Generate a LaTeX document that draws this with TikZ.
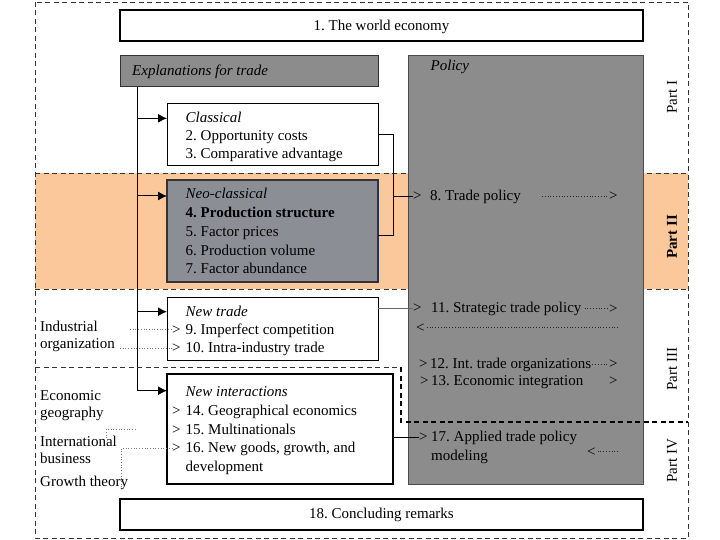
\documentclass[tikz,border=0pt]{standalone}
\usepackage{fontspec}
\setmainfont{Liberation Serif}
\usetikzlibrary{arrows.meta}
\newcommand\myfs{\fontsize{15}{18}\selectfont\frenchspacing}
\definecolor{bandorange}{RGB}{250,200,155}
\definecolor{boxgray}{RGB}{140,140,140}
\definecolor{neogray}{RGB}{140,142,150}
\definecolor{dotgray}{RGB}{120,120,120}
\begin{document}
\begin{tikzpicture}[x=1pt,y=-1pt,
  lbl/.style={anchor=base west, inner sep=0pt, font=\myfs},
  glyph/.style={anchor=base west, inner sep=0pt, font=\myfs},
  wbox/.style={draw=black, fill=white, anchor=north west, inner sep=0pt, outer sep=0pt, line width=1.2pt},
  gbox/.style={draw=black!80, fill=boxgray, anchor=north west, inner sep=0pt, outer sep=0pt, line width=1pt},
  outerframe/.style={line width=0.6pt, draw=black!80, dash pattern=on 5pt off 3.5pt},
  partsep/.style={line width=1.6pt, draw=black, dash pattern=on 5pt off 3.5pt},
  feed/.style={line width=1pt, -{Latex[length=9pt,width=9pt]}},
  solidlink/.style={line width=0.7pt, draw=black},
  dotline/.style={dotted, line width=0.7pt, draw=dotgray},
  pdots/.style={dotted, line width=0.8pt, draw=black!85},
]
\useasboundingbox (0,0) rectangle (720,540);
\fill[white] (0,0) rectangle (720,540);

% orange band (Part II)
\fill[bandorange] (35,173) rectangle (688,289);
\draw[outerframe] (35,173) -- (688,173);
\draw[outerframe] (35,289) -- (688,289);
\draw[outerframe] (35,2) rectangle (688,538);

% boxes
\node[wbox, minimum width=523pt, minimum height=31pt] (world) at (120,10) {};
\node[lbl, anchor=base] (worldt) at (381.5,30.7) {1. The world economy};

\node[gbox, minimum width=258pt, minimum height=31pt] (expl) at (120,56) {};
\node[lbl] (explt) at (132,76) {\itshape Explanations for trade};

\node[gbox, draw=black!70, minimum width=235pt, minimum height=428pt] (policy) at (408,56) {};
\node[lbl] (policyt) at (430.5,70.7) {\itshape Policy};

\node[wbox, line width=0.8pt, minimum width=211pt, minimum height=62pt] (classical) at (167,103) {};
\node[lbl] (c1) at (185.5,123) {\itshape Classical};
\node[lbl] (c2) at (185.5,140.5) {2. Opportunity costs};
\node[lbl] (c3) at (185.5,158.5) {3. Comparative advantage};

\node[gbox, fill=neogray, line width=1.3pt, minimum width=211pt, minimum height=102pt] (neo) at (167,180) {};
\node[lbl] (n1) at (185.5,199) {\itshape Neo-classical};
\node[lbl] (n2) at (185.5,218) {\bfseries 4. Production structure};
\node[lbl] (n3) at (185.5,236.5) {5. Factor prices};
\node[lbl] (n4) at (185.5,255) {6. Production volume};
\node[lbl] (n5) at (185.5,273.5) {7. Factor abundance};

\node[wbox, line width=1pt, minimum width=211pt, minimum height=63pt] (newtrade) at (167,297) {};
\node[lbl] (nt1) at (185.5,316) {\itshape New trade};
\node[lbl] (nt2) at (185.5,334) {9. Imperfect competition};
\node[lbl] (nt3) at (185.5,352.7) {10. Intra-industry trade};
\node[glyph] (g9) at (172,334) {>};
\node[glyph] (g10) at (172,352.7) {>};

\node[wbox, line width=1.4pt, minimum width=226pt, minimum height=110pt] (newint) at (167,374) {};
\node[lbl] (ni1) at (185.5,396.7) {\itshape New interactions};
\node[lbl] (ni2) at (185.5,415) {14. Geographical economics};
\node[lbl] (ni3) at (185.5,434) {15. Multinationals};
\node[lbl] (ni4) at (185.5,452.7) {16. New goods, growth, and};
\node[lbl] (ni5) at (185.5,471) {development};
\node[glyph] (g14) at (172,415) {>};
\node[glyph] (g15) at (172,434) {>};
\node[glyph] (g16) at (172,452.7) {>};

\node[wbox, minimum width=523pt, minimum height=31pt] (concl) at (120,499) {};
\node[lbl, anchor=base] (conclt) at (381.5,518) {18. Concluding remarks};

% feeding arrows from "Explanations for trade"
\coordinate (vtop) at (137,87);
\coordinate (b1) at (137,118.3);
\coordinate (b2) at (137,196);
\coordinate (b3) at (137,311.7);
\coordinate (b4) at (137,390.7);
\draw[feed] (vtop) |- (newint.west |- b4);
\draw[feed] (b1) -- (classical.west |- b1);
\draw[feed] (b2) -- (neo.west |- b2);
\draw[feed, line width=1.4pt] (b3) -- (newtrade.west |- b3);

% policy texts
\node[glyph] (g8) at (413,200.7) {>};
\node[lbl] (t8) at (430,200.7) {8. Trade policy};
\node[glyph] (g8r) at (609,200.7) {>};
\coordinate (d8) at (542,200);
\draw[pdots] (d8 |- g8r.west) -- (g8r.west);

\node[glyph] (g11) at (413,312.5) {>};
\node[lbl] (t11) at (431,312.5) {11. Strategic trade policy};
\node[glyph] (g11r) at (609,313) {>};
\draw[pdots] ([xshift=3pt]t11.east |- g11r.west) -- (g11r.west);

\node[glyph] (gl) at (416,332) {<};
\coordinate (lr) at (618,328);
\draw[pdots] (lr |- gl.east) -- (gl.east);

\node[glyph] (g12) at (419,368.3) {>};
\node[lbl] (t12) at (430,368.3) {12. Int. trade organizations};
\node[glyph] (g12r) at (609,368.3) {>};
\draw[pdots] ([xshift=1pt]t12.east |- g12r.west) -- (g12r.west);

\node[glyph] (g13) at (420,385) {>};
\node[lbl] (t13) at (431,385) {13. Economic integration};
\node[glyph] (g13r) at (609,385) {>};

\node[glyph] (g17) at (419,441.7) {>};
\node[lbl] (t17a) at (431,441.7) {17. Applied trade policy};
\node[lbl] (t17b) at (431,460) {modeling};
\node[glyph] (g17l) at (587,456) {<};
\coordinate (lr17) at (618,452);
\draw[pdots] (lr17 |- g17l.east) -- (g17l.east);

% solid links into policy
\coordinate (j) at (393,134);
\draw[solidlink] (classical.east |- j) -- (j) -- (393,235) -- (neo.east |- 0,235);
\draw[solidlink] (j |- g8.west) -- (g8.west);
\draw[solidlink, draw=black!60] (newtrade.east |- g11.west) -- (g11.west);
\draw[solidlink] (newint.east |- g17.west) -- (g17.west);

% left disciplines
\node[lbl] (io1) at (40,331) {Industrial};
\node[lbl] (io2) at (40,348) {organization};
\node[lbl] (eg1) at (40,400) {Economic};
\node[lbl] (eg2) at (40,417) {geography};
\node[lbl] (ib1) at (40,446.7) {International};
\node[lbl] (ib2) at (40,463) {business};
\node[lbl] (gt) at (40,486.7) {Growth theory};

\coordinate (io1e) at (130,0);
\coordinate (io2e) at (120,0);
\draw[dotline] (io1e |- g9.west) -- (g9.west);
\draw[dotline] (io2e |- g10.west) -- (g10.west);
\coordinate (ibs) at (106,438);
\coordinate (ibe) at (137,429);
\draw[dotline] (ibs) |- (ibe);
\coordinate (gts) at (121,487);
\draw[dotline] (gts) |- (g16.west);

% part separators
\draw[outerframe] (35,367) -- (401,367);
\draw[partsep] (401,367) -- (401,422) -- (688,422);

% part labels
\node[font=\myfs, rotate=90, inner sep=0pt] (p1) at (672,97) {Part I};
\node[font=\myfs\bfseries, rotate=90, inner sep=0pt] (p2) at (672,237) {Part II};
\node[font=\myfs, rotate=90, inner sep=0pt] (p3) at (672,369) {Part III};
\node[font=\myfs, rotate=90, inner sep=0pt] (p4) at (672,461) {Part IV};
\end{tikzpicture}
\end{document}
